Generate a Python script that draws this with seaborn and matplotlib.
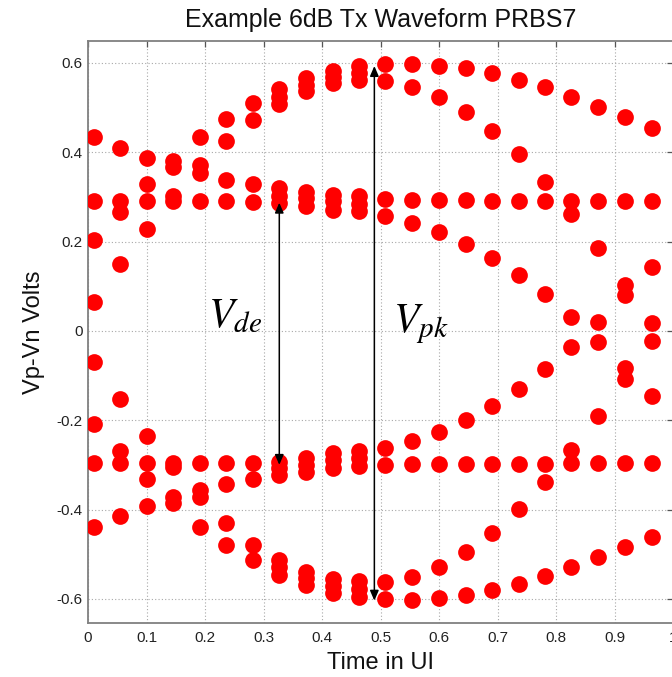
import numpy as np
import pandas as pd
import matplotlib
matplotlib.use("Agg")
import matplotlib.pyplot as plt
import seaborn as sns

# sample instants within one UI
sample_t = [0.010, 0.055, 0.100, 0.146, 0.191, 0.236, 0.282, 0.327, 0.373, 0.419, 0.464,
            0.508, 0.553, 0.600, 0.646, 0.691, 0.737, 0.781, 0.826, 0.872, 0.918, 0.964]

# upper half of the eye, one list per sample instant
v_top = [
    [0.433, 0.291, 0.204, 0.064],
    [0.409, 0.291, 0.266, 0.149],
    [0.388, 0.328, 0.291, 0.228],
    [0.381, 0.367, 0.303, 0.290],
    [0.433, 0.372, 0.353, 0.291],
    [0.474, 0.426, 0.338, 0.290],
    [0.511, 0.472, 0.328, 0.288],
    [0.542, 0.523, 0.508, 0.319, 0.301, 0.286],
    [0.566, 0.551, 0.536, 0.312, 0.297, 0.280],
    [0.581, 0.568, 0.555, 0.305, 0.290, 0.271],
    [0.593, 0.578, 0.562, 0.301, 0.284, 0.269],
    [0.598, 0.560, 0.296, 0.257],
    [0.598, 0.547, 0.293, 0.241],
    [0.594, 0.523, 0.293, 0.221],
    [0.588, 0.490, 0.293, 0.195],
    [0.577, 0.448, 0.291, 0.164],
    [0.562, 0.396, 0.291, 0.125],
    [0.545, 0.334, 0.291, 0.083],
    [0.523, 0.291, 0.262, 0.032],
    [0.501, 0.291, 0.185, 0.021],
    [0.478, 0.291, 0.103, 0.081],
    [0.455, 0.291, 0.142, 0.017],
]

# lower half of the eye
v_bot = [
    [-0.069, -0.209, -0.296, -0.438],
    [-0.153, -0.269, -0.295, -0.414],
    [-0.235, -0.295, -0.332, -0.392],
    [-0.295, -0.305, -0.371, -0.386],
    [-0.295, -0.356, -0.372, -0.438],
    [-0.295, -0.343, -0.429, -0.479],
    [-0.295, -0.331, -0.479, -0.513],
    [-0.293, -0.307, -0.322, -0.514, -0.529, -0.546],
    [-0.285, -0.300, -0.315, -0.539, -0.554, -0.569],
    [-0.274, -0.289, -0.307, -0.556, -0.571, -0.586],
    [-0.270, -0.285, -0.302, -0.561, -0.578, -0.595],
    [-0.263, -0.300, -0.563, -0.601],
    [-0.246, -0.298, -0.550, -0.602],
    [-0.227, -0.298, -0.528, -0.598],
    [-0.199, -0.298, -0.494, -0.591],
    [-0.168, -0.298, -0.453, -0.580],
    [-0.130, -0.298, -0.399, -0.566],
    [-0.086, -0.298, -0.339, -0.548],
    [-0.035, -0.266, -0.296, -0.528],
    [-0.025, -0.190, -0.296, -0.507],
    [-0.084, -0.107, -0.296, -0.484],
    [-0.022, -0.145, -0.296, -0.461],
]

# annotation arrows: V_de and V_pk
arrow_x = [0.327, 0.4895]
arrow_top = [0.287, 0.593]
arrow_bot = [-0.300, -0.604]
arrow_labels = [r"$V_{de}$", r"$V_{pk}$"]
label_pos = [(0.205, 0.007), (0.521, -0.004)]

x_ticks = [0, 0.1, 0.2, 0.3, 0.4, 0.5, 0.6, 0.7, 0.8, 0.9, 1]
x_ticklabels = ["0", "0.1", "0.2", "0.3", "0.4", "0.5", "0.6", "0.7", "0.8", "0.9", "1"]
y_ticks = [-0.6, -0.4, -0.2, 0, 0.2, 0.4, 0.6]
y_ticklabels = ["-0.6", "-0.4", "-0.2", "0", "0.2", "0.4", "0.6"]

rows = []
for t, tops, bots in zip(sample_t, v_top, v_bot):
    for v in tops + bots:
        rows.append({"t": t, "v": v})
df = pd.DataFrame(rows)

sns.set_theme(style="white")
plt.rcParams["font.family"] = ["Liberation Sans", "DejaVu Sans"]
plt.rcParams["mathtext.fontset"] = "stix"

fig = plt.figure(figsize=(6.72, 6.77), dpi=100)
ax = fig.add_axes([88 / 672, 1 - 623 / 677, 585 / 672, 582 / 677])

sns.scatterplot(data=df, x="t", y="v", color="#ff0000", s=145, linewidth=0, ax=ax, zorder=3)

ax.set_xlim(0, 1)
ax.set_ylim(-0.654, 0.649)
ax.set_xticks(x_ticks)
ax.set_xticklabels(x_ticklabels)
ax.set_yticks(y_ticks)
ax.set_yticklabels(y_ticklabels)

ax.set_axisbelow(True)
ax.grid(True, color="#a8a8a8", linestyle=(0, (1, 2)), linewidth=0.8)
ax.tick_params(direction="in", length=4.5, width=0.9, color="#555555",
               top=True, right=True, labelsize=11, labelcolor="#222222")
ax.tick_params(axis="x", pad=6)
ax.tick_params(axis="y", pad=4)
for sp in ax.spines.values():
    sp.set_color("#808080")
    sp.set_linewidth(1.3)

for x, y0, y1 in zip(arrow_x, arrow_top, arrow_bot):
    ax.annotate("", xy=(x, y0), xytext=(x, y1),
                arrowprops=dict(arrowstyle="<|-|>,head_length=0.6,head_width=0.26",
                                mutation_scale=10, color="black", lw=1.1,
                                shrinkA=0, shrinkB=0), zorder=4)

for lbl, (lx, ly) in zip(arrow_labels, label_pos):
    ax.text(lx, ly, lbl, fontsize=30, ha="left", va="baseline", color="black", zorder=5)

ax.set_title("Example 6dB Tx Waveform PRBS7", fontsize=18, pad=10, color="#111111")
ax.set_xlabel("Time in UI", fontsize=17, labelpad=5, color="#111111")
ax.set_ylabel("Vp-Vn Volts", fontsize=17, labelpad=8, color="#111111")

fig.savefig("out.png", dpi=100)
